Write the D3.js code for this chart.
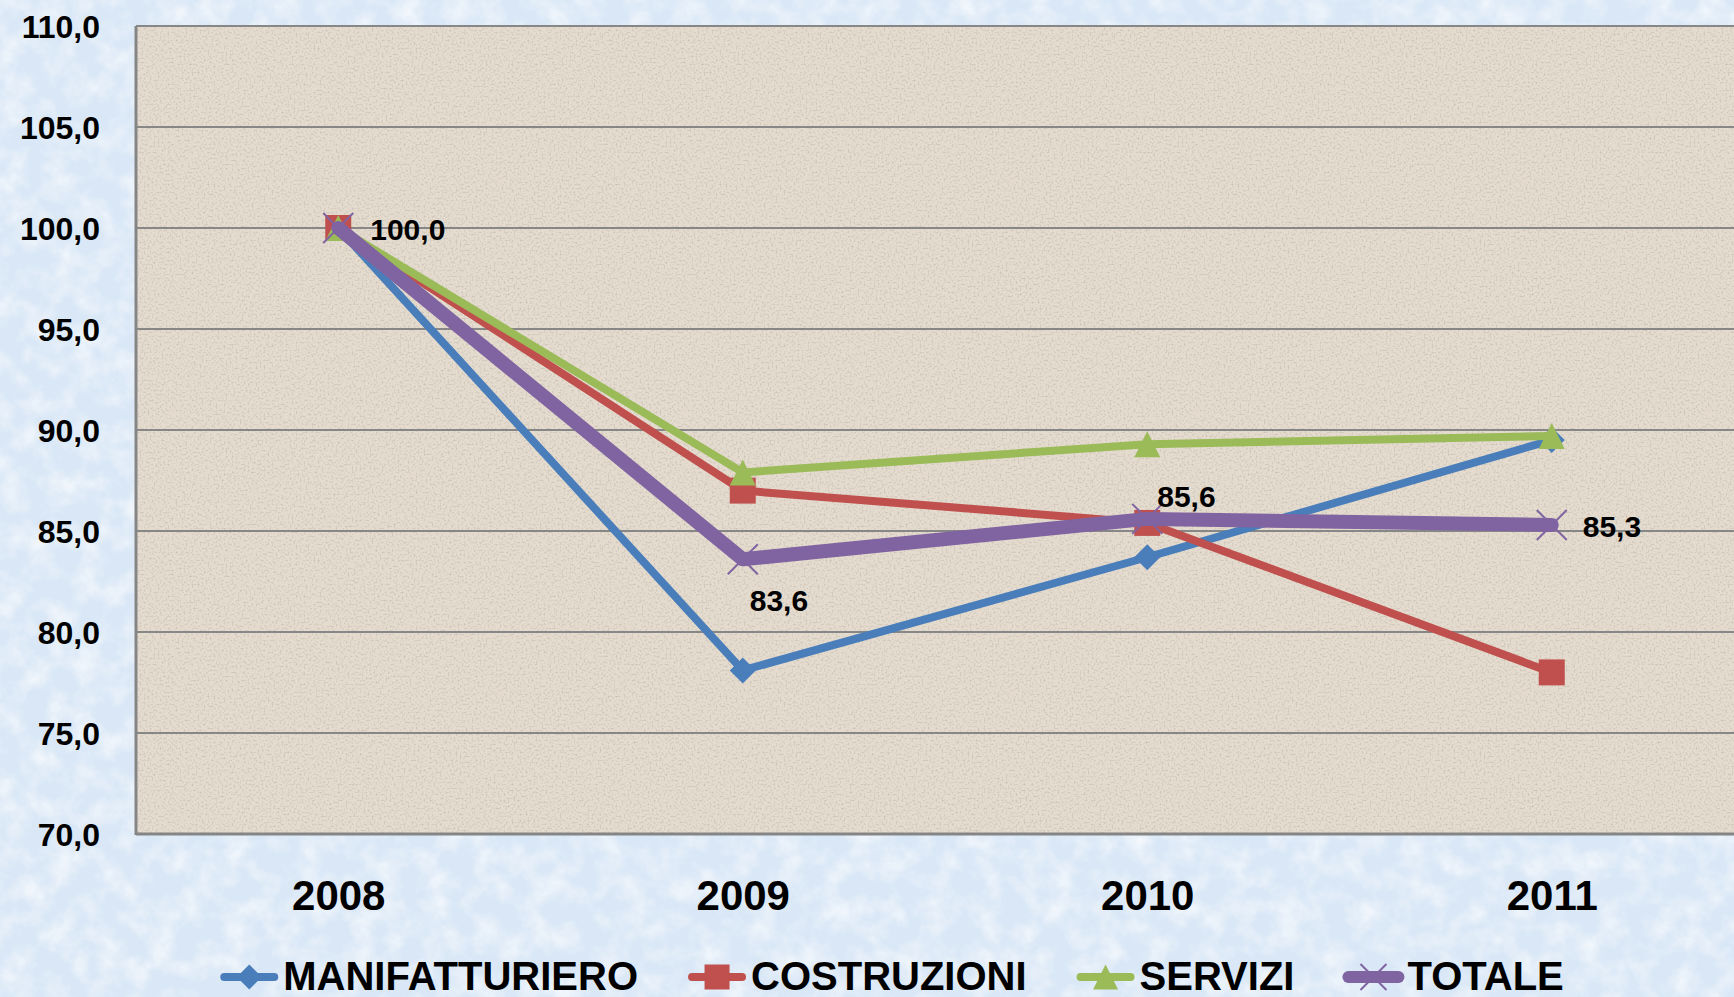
<!DOCTYPE html>
<html><head><meta charset="utf-8">
<script src="https://cdn.jsdelivr.net/npm/d3@7"></script>
<style>
html,body{margin:0;padding:0;background:#d9e7f6;overflow:hidden;}
svg{display:block;}
text{font-family:"Liberation Sans",Arial,sans-serif;font-weight:bold;fill:#000;}
</style></head>
<body>
<svg id="chart" width="1734" height="997"></svg>
<script>
// ---- data ----
const years = ["2008", "2009", "2010", "2011"];
const seriesNames = ["MANIFATTURIERO", "COSTRUZIONI", "SERVIZI", "TOTALE"];
const manifatturiero = [100.0, 78.1, 83.7, 89.5];
const costruzioni = [100.0, 87.0, 85.4, 78.0];
const servizi = [100.0, 87.9, 89.3, 89.7];
const totale = [100.0, 83.6, 85.6, 85.3];
const yTicks = [70, 75, 80, 85, 90, 95, 100, 105, 110];
const totaleLabels = ["100,0", "83,6", "85,6", "85,3"];

const seriesValues = [manifatturiero, costruzioni, servizi, totale];
const colors = ["#4a7ebb", "#c0504d", "#9bbb59", "#8064a2"];
const widths = [8, 8, 8, 14];
const markers = ["diamond", "square", "triangle", "x"];

const W = 1734, H = 997;
const plot = {left: 136, top: 26, right: 1754, bottom: 834};

const svg = d3.select("#chart");
const defs = svg.append("defs");

// mottled background texture
const f1 = defs.append("filter").attr("id", "cloud").attr("x", 0).attr("y", 0).attr("width", "100%").attr("height", "100%");
f1.append("feTurbulence").attr("type", "fractalNoise").attr("baseFrequency", "0.04").attr("numOctaves", 4).attr("seed", 7);
f1.append("feColorMatrix").attr("type", "matrix").attr("values", "0 0 0 0 1  0 0 0 0 1  0 0 0 0 1  1.3 0 0 0 -0.5");
const f1b = defs.append("filter").attr("id", "cloud2").attr("x", 0).attr("y", 0).attr("width", "100%").attr("height", "100%");
f1b.append("feTurbulence").attr("type", "fractalNoise").attr("baseFrequency", "0.06").attr("numOctaves", 3).attr("seed", 2);
f1b.append("feColorMatrix").attr("type", "matrix").attr("values", "0 0 0 0 0.70  0 0 0 0 0.80  0 0 0 0 0.92  1.0 0 0 0 -0.45");

// speckled beige texture
const f2 = defs.append("filter").attr("id", "speck").attr("x", 0).attr("y", 0).attr("width", "100%").attr("height", "100%");
f2.append("feTurbulence").attr("type", "fractalNoise").attr("baseFrequency", "0.5").attr("numOctaves", 2).attr("seed", 5);
f2.append("feColorMatrix").attr("type", "matrix").attr("values", "0 0 0 0 0.45  0 0 0 0 0.40  0 0 0 0 0.35  2.4 0 0 0 -1.12");

svg.append("rect").attr("width", W).attr("height", H).attr("fill", "#d9e7f6");
svg.append("rect").attr("width", W).attr("height", H).attr("filter", "url(#cloud2)");
svg.append("rect").attr("width", W).attr("height", H).attr("filter", "url(#cloud)");

const x = d3.scalePoint().domain(years).range([plot.left, plot.right]).padding(0.5);
const y = d3.scaleLinear().domain([70, 110]).range([plot.bottom, plot.top]);

// plot area
svg.append("rect").attr("x", plot.left).attr("y", plot.top)
  .attr("width", plot.right - plot.left).attr("height", plot.bottom - plot.top)
  .attr("fill", "#e5dccf");
svg.append("rect").attr("x", plot.left).attr("y", plot.top)
  .attr("width", plot.right - plot.left).attr("height", plot.bottom - plot.top)
  .attr("filter", "url(#speck)").attr("opacity", 0.6);

// gridlines
svg.append("g").selectAll("line").data(yTicks).join("line")
  .attr("x1", plot.left).attr("x2", plot.right)
  .attr("y1", d => y(d)).attr("y2", d => y(d))
  .attr("stroke", "#878787").attr("stroke-width", 2);

// axis borders
svg.append("line").attr("x1", plot.left).attr("x2", plot.left).attr("y1", plot.top).attr("y2", plot.bottom + 1)
  .attr("stroke", "#858585").attr("stroke-width", 3);
svg.append("line").attr("x1", plot.left).attr("x2", plot.right).attr("y1", plot.bottom).attr("y2", plot.bottom)
  .attr("stroke", "#858585").attr("stroke-width", 3);

// y axis
const fmt = d => d3.format(".1f")(d).replace(".", ",");
const yAxis = svg.append("g").attr("transform", `translate(${plot.left},0)`)
  .call(d3.axisLeft(y).tickValues(yTicks).tickSize(0).tickPadding(36).tickFormat(fmt));
yAxis.select(".domain").remove();
yAxis.selectAll("text").attr("font-size", 32).attr("dy", "0.36em")
  .style("font-family", '"Liberation Sans",Arial,sans-serif').style("font-weight", "bold").attr("fill", "#000");

// x axis
const xAxis = svg.append("g").attr("transform", `translate(0,${plot.bottom})`)
  .call(d3.axisBottom(x).tickSize(0));
xAxis.select(".domain").remove();
xAxis.selectAll("text").attr("font-size", 42).attr("y", 76).attr("dy", 0)
  .style("font-family", '"Liberation Sans",Arial,sans-serif').style("font-weight", "bold").attr("fill", "#000");

// marker drawing
function drawMarker(g, type, color, cx, cy, s) {
  const h = s / 2;
  if (type === "diamond") {
    g.append("path").attr("d", `M${cx},${cy - h}L${cx + h},${cy}L${cx},${cy + h}L${cx - h},${cy}Z`).attr("fill", color);
  } else if (type === "square") {
    g.append("rect").attr("x", cx - h).attr("y", cy - h).attr("width", s).attr("height", s).attr("fill", color);
  } else if (type === "triangle") {
    g.append("path").attr("d", `M${cx},${cy - h}L${cx + h},${cy + h}L${cx - h},${cy + h}Z`).attr("fill", color);
  } else if (type === "x") {
    g.append("path").attr("d", `M${cx - h},${cy - h}L${cx + h},${cy + h}M${cx + h},${cy - h}L${cx - h},${cy + h}`)
      .attr("stroke", color).attr("stroke-width", 2).attr("fill", "none");
  }
}

const line = d3.line().x((d, i) => x(years[i])).y(d => y(d));
seriesValues.forEach((vals, si) => {
  const g = svg.append("g");
  g.append("path").datum(vals).attr("d", line).attr("fill", "none")
    .attr("stroke", colors[si]).attr("stroke-width", widths[si])
    .attr("stroke-linejoin", "round").attr("stroke-linecap", "round");
  vals.forEach((v, i) => drawMarker(g, markers[si], colors[si], x(years[i]), y(v), si === 3 ? 30 : 26));
});

// data labels for TOTALE
const labelOffsets = [[32, 12], [7, 52], [10, -12], [31, 12]];
svg.append("g").selectAll("text").data(totale).join("text")
  .attr("x", (d, i) => x(years[i]) + labelOffsets[i][0])
  .attr("y", (d, i) => y(d) + labelOffsets[i][1])
  .attr("font-size", 30)
  .text((d, i) => totaleLabels[i]);

// legend
const legend = svg.append("g");
const items = [];
seriesNames.forEach((name, si) => {
  const g = legend.append("g");
  const t = g.append("text").attr("font-size", 40).attr("y", 0).text(name);
  const tw = t.node().getComputedTextLength();
  items.push({g, t, tw, si});
});
const lineLen = 58, gapText = 5, gapItem = 50;
let total = 0;
items.forEach((it, k) => { total += lineLen + gapText + it.tw + (k < items.length - 1 ? gapItem : 0); });
let lx = 892 - total / 2;
const legBase = 990, legMid = 977;
items.forEach(it => {
  const si = it.si;
  it.g.append("line").attr("x1", lx + 4).attr("x2", lx + lineLen - 4).attr("y1", legMid).attr("y2", legMid)
    .attr("stroke", colors[si]).attr("stroke-width", si === 3 ? 12 : 8).attr("stroke-linecap", "round");
  drawMarker(it.g, markers[si], colors[si], lx + lineLen / 2, legMid, si === 3 ? 26 : 25);
  it.t.attr("x", lx + lineLen + gapText).attr("y", legBase);
  it.g.node().appendChild(it.t.node());
  lx += lineLen + gapText + it.tw + gapItem;
});
</script>
</body></html>
